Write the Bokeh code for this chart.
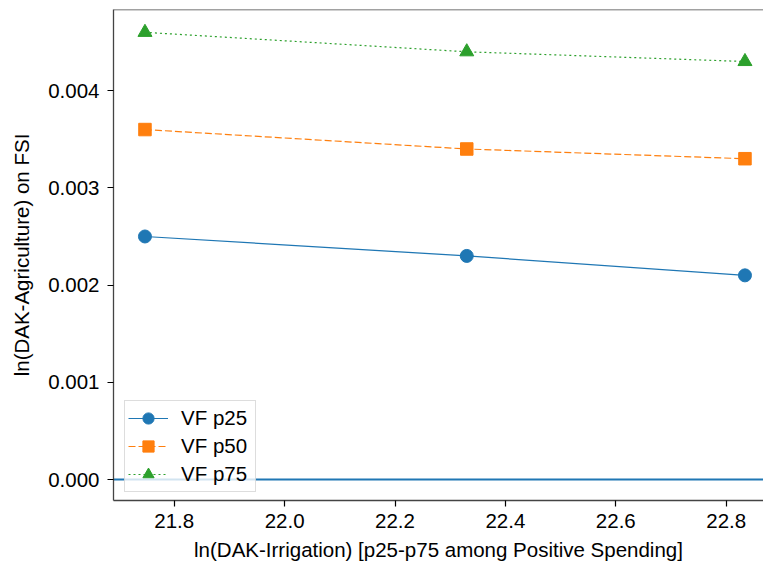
from bokeh.plotting import figure
from bokeh.models import Range1d, FixedTicker, PrintfTickFormatter, Span, Legend, LegendItem
from bokeh.embed import file_html
from bokeh.resources import INLINE

# data
x_vals = [21.747, 22.33, 22.834]
vf_p25 = [0.0025, 0.0023, 0.0021]
vf_p50 = [0.0036, 0.0034, 0.0033]
vf_p75 = [0.0046, 0.0044, 0.0043]
series_names = ["VF p25", "VF p50", "VF p75"]
x_ticks = [21.8, 22.0, 22.2, 22.4, 22.6, 22.8]
y_ticks = [0.0, 0.001, 0.002, 0.003, 0.004]

FONT = "Liberation Sans"
FS = "20.5px"

p = figure(width=763, height=567, output_backend="svg", toolbar_location=None,
           x_range=Range1d(21.690, 22.8676), y_range=Range1d(-0.000216, 0.004835),
           min_border_left=113, min_border_top=9, min_border_right=0, min_border_bottom=67)
p.outline_line_color = None
p.xgrid.visible = False
p.ygrid.visible = False
p.background_fill_color = "white"

for ax in (p.xaxis[0], p.yaxis[0]):
    ax.axis_line_color = "#444444"
    ax.axis_line_width = 1.3
    ax.major_tick_line_color = "black"
    ax.major_tick_line_width = 1.2
    ax.major_tick_out = 6
    ax.major_tick_in = 0
    ax.minor_tick_line_color = None
    ax.major_label_text_font = FONT
    ax.major_label_text_font_size = FS
    ax.major_label_text_color = "black"
    ax.axis_label_text_font = FONT
    ax.axis_label_text_font_size = FS
    ax.axis_label_text_font_style = "normal"
    ax.axis_label_text_color = "black"

p.xaxis.ticker = FixedTicker(ticks=x_ticks)
p.xaxis.formatter = PrintfTickFormatter(format="%.1f")
p.xaxis.axis_label = "ln(DAK-Irrigation) [p25-p75 among Positive Spending]"
p.xaxis.major_label_standoff = 7
p.xaxis.axis_label_standoff = 7

p.yaxis.ticker = FixedTicker(ticks=y_ticks)
p.yaxis.formatter = PrintfTickFormatter(format="%.3f")
p.yaxis.axis_label = "ln(DAK-Agriculture) on FSI"
p.yaxis.major_label_standoff = 8
p.yaxis.axis_label_standoff = 12

# top spine
p.add_layout(Span(location=p.y_range.end, dimension="width", line_color="#444444", line_width=1.3))
# zero line
p.add_layout(Span(location=0, dimension="width", line_color="#1f77b4", line_width=1.8, level="glyph"))

colors = ["#1f77b4", "#ff7f0e", "#2ca02c"]
dashes = ["solid", "7 3", "2 3"]
markers = ["circle", "square", "triangle"]
sizes = [13, 12.5, 14]
items = []
for name, ys, c, d, m, s in zip(series_names, [vf_p25, vf_p50, vf_p75], colors, dashes, markers, sizes):
    r1 = p.line(x_vals, ys, line_color=c, line_width=1.2, line_dash=d)
    r2 = p.scatter(x_vals, ys, marker=m, size=s, fill_color=c, line_color=c)
    items.append(LegendItem(label=name, renderers=[r1, r2]))

legend = Legend(items=items, location=(11, 8))
legend.label_text_font = FONT
legend.label_text_font_size = FS
legend.label_text_color = "black"
legend.glyph_width = 40
legend.glyph_height = 28
legend.label_height = 20
legend.label_width = 71
legend.label_standoff = 13
legend.spacing = 0
legend.padding = 3
legend.margin = 0
legend.border_line_color = "#bbbbbb"
legend.border_line_width = 1
legend.background_fill_color = "white"
legend.background_fill_alpha = 0.8
p.add_layout(legend, "center")

open("out.html", "w").write(file_html(p, INLINE))
